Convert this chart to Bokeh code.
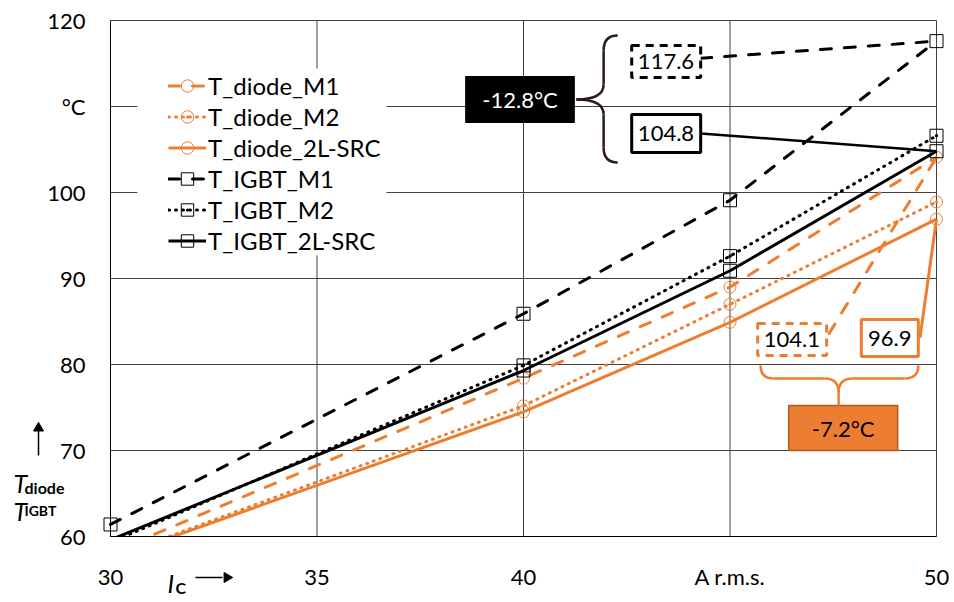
from bokeh.plotting import figure
from bokeh.models import (Range1d, FixedTicker, Legend, LegendItem, Label,
                          BoxAnnotation)
from bokeh.embed import file_html
from bokeh.resources import INLINE

# ---------------- data ----------------
current = [30, 40, 45, 50]
T_diode_M1 = [58.1, 78.4, 89.0, 104.1]
T_diode_M2 = [57.5, 75.2, 87.0, 98.9]
T_diode_2L_SRC = [57.4, 74.5, 84.9, 96.9]
T_IGBT_M1 = [61.4, 85.9, 99.1, 117.6]
T_IGBT_M2 = [59.3, 79.9, 92.6, 106.6]
T_IGBT_2L_SRC = [59.6, 79.3, 90.9, 104.8]

x_ticks = [30, 35, 40, 45, 50]
x_tick_labels = {45: "A r.m.s."}
y_ticks = [60, 70, 80, 90, 100, 110, 120]
y_tick_labels = {110: "°C"}

ORANGE = "#ED7D31"
FONT = "Lato"

series = [
    ("T_diode_M1", T_diode_M1, ORANGE, "dashed", "circle"),
    ("T_diode_M2", T_diode_M2, ORANGE, "dotted", "circle_dot"),
    ("T_diode_2L-SRC", T_diode_2L_SRC, ORANGE, "solid", "circle"),
    ("T_IGBT_M1", T_IGBT_M1, "black", "dashed", "square"),
    ("T_IGBT_M2", T_IGBT_M2, "black", "dotted", "square_dot"),
    ("T_IGBT_2L-SRC", T_IGBT_2L_SRC, "black", "solid", "square"),
]
dash_map = {"dashed": "11 13", "dotted": "1 6", "solid": "solid"}

# The frame spans the whole canvas; the plot box (30..50 A, 60..120 degC) sits inside it,
# so the axis titles can be drawn as ordinary labels.
W, H = 950, 600
BOX_L, BOX_R, BOX_T, BOX_B = 110, 936, 20, 536          # plot box in pixels
xs = (BOX_R - BOX_L) / (x_ticks[-1] - x_ticks[0])
ys = (BOX_B - BOX_T) / (y_ticks[-1] - y_ticks[0])
x_range = Range1d(x_ticks[0] - BOX_L / xs, x_ticks[-1] + (W - BOX_R) / xs)
y_range = Range1d(y_ticks[0] - (H - BOX_B) / ys, y_ticks[-1] + BOX_T / ys)

p = figure(width=W, height=H, output_backend="svg", toolbar_location=None,
           x_range=x_range, y_range=y_range, min_border=0,
           min_border_left=0, min_border_right=0, min_border_top=0, min_border_bottom=0)
p.background_fill_color = "white"
p.border_fill_color = "white"
p.outline_line_color = None
p.xgrid.visible = False
p.ygrid.visible = False

# manual grid / plot-box lines built from the tick lists
p.segment(x0=x_ticks, x1=x_ticks, y0=[y_ticks[0]] * len(x_ticks), y1=[y_ticks[-1]] * len(x_ticks),
          line_color="#404040", line_width=1, level="underlay")
p.segment(x0=[x_ticks[0]] * len(y_ticks), x1=[x_ticks[-1]] * len(y_ticks), y0=y_ticks, y1=y_ticks,
          line_color="#404040", line_width=1, level="underlay")

for ax, ticks, labels, loc in ((p.xaxis, x_ticks, x_tick_labels, y_ticks[0]),
                               (p.yaxis, y_ticks, y_tick_labels, x_ticks[0])):
    ax.fixed_location = loc
    ax.bounds = (ticks[0], ticks[-1])
    ax.ticker = FixedTicker(ticks=ticks)
    ax.major_label_overrides = labels
    ax.axis_line_color = "black"
    ax.axis_line_width = 1
    ax.major_tick_line_color = None
    ax.minor_tick_line_color = None
    ax.major_tick_out = 0
    ax.major_tick_in = 0
    ax.major_label_text_font = FONT
    ax.major_label_text_font_size = "22px"
    ax.major_label_text_color = "black"
p.xaxis.major_label_standoff = 26
p.yaxis.major_label_standoff = 25

items = []
for name, vals, color, style, marker in series:
    lr = p.line(current, vals, line_color=color, line_width=3,
                line_dash=dash_map[style],
                line_cap="round" if style != "solid" else "butt")
    xm = [x for x, y in zip(current, vals) if y >= y_ticks[0]]
    ym = [y for y in vals if y >= y_ticks[0]]
    sr = p.scatter(xm, ym, marker=marker, size=12 if color == ORANGE else 13,
                   line_color=color, line_width=1, fill_alpha=0)
    items.append(LegendItem(label=name, renderers=[lr, sr]))

# hide the parts of the lines that fall below the 60 degC axis (axis drawn above)
p.quad(left=[x_ticks[0] - 0.05], right=[x_ticks[-1]], top=[y_ticks[0] - 0.07],
       bottom=[y_ticks[0] - 2.85], fill_color="white", line_color=None)

# ---------------- annotations ----------------
d_igbt = T_IGBT_2L_SRC[-1] - T_IGBT_M1[-1]
d_diode = T_diode_2L_SRC[-1] - T_diode_M1[-1]

def box(l, r, b, t, line_color, dash, fill="white", lw=3):
    p.quad(left=[l], right=[r], bottom=[b], top=[t], fill_color=fill,
           line_color=line_color, line_dash=dash, line_width=lw)

def text(x, y, s, color="black", size="22px", style="normal", align="center",
         baseline="middle", font=FONT):
    p.add_layout(Label(x=x, y=y, text=s, text_align=align, text_baseline=baseline,
                       text_font=font, text_font_size=size, text_font_style=style,
                       text_color=color))

# leader lines
p.line([44.29, current[-1]], [115.6, T_IGBT_M1[-1]], line_color="black", line_width=3,
       line_dash="11 13", line_cap="round")
p.line([44.29, current[-1]], [106.86, T_IGBT_2L_SRC[-1]], line_color="black", line_width=2.5)
p.line([47.4, current[-1]], [83.6, T_diode_M1[-1]], line_color=ORANGE, line_width=3,
       line_dash="11 13", line_cap="round")
p.line([49.6, current[-1]], [83.1, T_diode_2L_SRC[-1]], line_color=ORANGE, line_width=3)

box(42.62, 44.29, 113.37, 117.09, "black", "8 6")
text(43.45, 115.23, f"{T_IGBT_M1[-1]:.1f}")
box(42.62, 44.29, 104.65, 109.07, "black", "solid")
text(43.45, 106.86, f"{T_IGBT_2L_SRC[-1]:.1f}")
box(45.67, 47.34, 81.05, 84.77, ORANGE, "8 6")
text(46.5, 82.91, f"{T_diode_M1[-1]:.1f}")
box(48.18, 49.56, 80.93, 85.23, ORANGE, "solid")
text(48.87, 83.08, f"{T_diode_2L_SRC[-1]:.1f}")

box(38.60, 41.23, 108.14, 113.49, "black", "solid", fill="black", lw=1)
text(39.915, 110.81, f"{d_igbt:.1f}°C", color="white")
box(46.42, 49.06, 70.0, 75.23, "#AE5A21", "solid", fill=ORANGE, lw=1.5)
text(47.74, 72.6, f"{d_diode:.1f}°C")

# black curly brace
BR = "#2b1a24"
p.quadratic(x0=[42.28, 41.94, 41.94, 41.94], y0=[118.26, 112.55, 109.07, 105.23],
            x1=[41.94, 41.28, 41.28, 42.28], y1=[116.52, 110.81, 110.81, 103.49],
            cx=[41.94, 41.94, 41.94, 41.94], cy=[118.26, 110.81, 110.81, 103.49],
            line_color=BR, line_width=2.5)
p.segment(x0=[41.94, 41.94], y0=[116.52, 109.07], x1=[41.94, 41.94], y1=[112.55, 105.23],
          line_color=BR, line_width=2.5)

# orange curly brace
p.quadratic(x0=[45.74, 47.29, 47.97, 49.23], y0=[79.88, 78.37, 78.37, 78.37],
            x1=[46.05, 47.63, 47.63, 49.56], y1=[78.37, 76.74, 76.74, 79.88],
            cx=[45.74, 47.63, 47.63, 49.56], cy=[78.37, 78.37, 78.37, 78.37],
            line_color=ORANGE, line_width=2.5)
p.segment(x0=[46.05, 47.97, 47.63], y0=[78.37, 78.37, 76.74],
          x1=[47.29, 49.23, 47.63], y1=[78.37, 78.37, 75.23],
          line_color=ORANGE, line_width=2.5)

# white legend background
p.add_layout(BoxAnnotation(left=30.65, right=36.68, bottom=92.67, top=114.42,
                           fill_color="white", fill_alpha=1, line_color=None))

legend = Legend(items=items, location=(168, H - 255.5), padding=0, margin=0,
                spacing=0, glyph_width=38, glyph_height=31, label_height=31,
                label_standoff=2, label_text_font=FONT, label_text_font_size="24px",
                label_text_color="black", border_line_color=None,
                background_fill_alpha=0)
p.add_layout(legend)

# axis titles
text(27.651, 66.279, "T", size="25px", style="italic", align="left", baseline="alphabetic")
text(27.918, 65.698, "diode", size="16px", style="bold", align="left", baseline="alphabetic")
text(27.651, 62.907, "T", size="25px", style="italic", align="left", baseline="alphabetic")
text(27.918, 63.023, "IGBT", size="14px", style="bold", align="left", baseline="alphabetic")
text(31.380, 54.535, "I", size="25px", style="italic", align="left", baseline="alphabetic")
text(31.574, 54.070, "C", size="16px", style="bold", align="left", baseline="alphabetic")

# title arrows
p.segment(x0=[28.257, 32.058], y0=[69.419, 55.233], x1=[28.257, 32.712], y1=[72.4, 55.233],
          line_color="black", line_width=1.5)
p.scatter(x=[28.257, 32.82], y=[72.6, 55.233], marker="triangle", size=10,
          angle=[0, -1.5708], fill_color="black", line_color="black")

open("out.html", "w").write(file_html(p, INLINE))
